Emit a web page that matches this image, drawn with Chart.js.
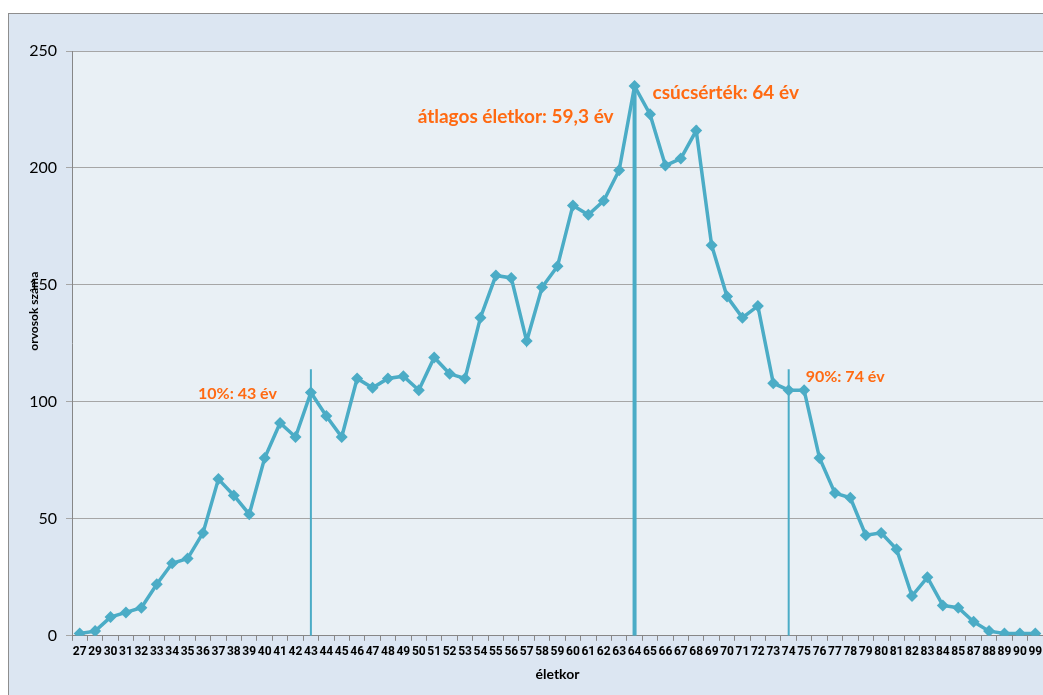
<!DOCTYPE html>
<html>
<head>
<meta charset="utf-8">
<script src="https://cdn.jsdelivr.net/npm/chart.js@4/dist/chart.umd.min.js"></script>
<style>
  html, body { margin: 0; padding: 0; overflow: hidden; background: #fff; }
  #wrap { width: 1043px; height: 695px; overflow: hidden; }
</style>
</head>
<body>
<div id="wrap"><canvas id="ageChart" width="1049" height="695"></canvas></div>
<script>
// életkor (x-axis categories)
const ages = ['27','29','30','31','32','33','34','35','36','37','38','39','40','41','42','43','44','45',
  '46','47','48','49','50','51','52','53','54','55','56','57','58','59','60','61','62','63','64','65',
  '66','67','68','69','70','71','72','73','74','75','76','77','78','79','80','81','82','83','84','85',
  '87','88','89','90','99'];

// orvosok száma
const doctors = [1, 2, 8, 10, 12, 22, 31, 33, 44, 67, 60, 52, 76, 91, 85, 104, 94, 85,
  110, 106, 110, 111, 105, 119, 112, 110, 136, 154, 153, 126, 149, 158, 184, 180, 186, 199, 235, 223,
  201, 204, 216, 167, 145, 136, 141, 108, 105, 105, 76, 61, 59, 43, 44, 37, 17, 25, 13, 12,
  6, 2, 1, 1, 1];

const yTicks = [0, 50, 100, 150, 200, 250];

// marker lines: 10%, peak, 90%
const p10Line = [{ x: '43', y: 0 }, { x: '43', y: 114 }];
const peakLine = [{ x: '64', y: 0 }, { x: '64', y: 235 }];
const p90Line = [{ x: '74', y: 0 }, { x: '74', y: 114 }];

const orange = '#FF6A12';
const blue = '#4BACC6';

const backgroundPlugin = {
    id: 'backgroundPlugin',
    beforeDraw(chart) {
        const { ctx, chartArea: a, width, height } = chart;
        ctx.save();
        ctx.fillStyle = '#ffffff';
        ctx.fillRect(0, 0, width, height);
        ctx.fillStyle = '#DCE6F2';
        ctx.fillRect(8, 13, width, height);
        ctx.strokeStyle = '#8E8E8E';
        ctx.lineWidth = 1;
        ctx.strokeRect(8.5, 13.5, width + 20, height + 20);
        ctx.fillStyle = '#E9F0F5';
        ctx.fillRect(a.left, a.top, a.right - a.left, a.bottom - a.top);
        ctx.restore();
    }
};

const labelPlugin = {
    id: 'labelPlugin',
    afterDraw(chart) {
        const { ctx, chartArea: a } = chart;
        const xs = chart.scales.x;
        const ys = chart.scales.y;
        const px = (age) => xs.getPixelForValue(ages.indexOf(age));
        ctx.save();
        ctx.fillStyle = orange;
        ctx.textBaseline = 'middle';

        ctx.font = 'bold 19px Lato';
        ctx.textAlign = 'right';
        ctx.fillText('átlagos életkor: 59,3 év', px('64') - 21, ys.getPixelForValue(222));
        ctx.textAlign = 'left';
        ctx.fillText('csúcsérték: 64 év', px('64') + 18, ys.getPixelForValue(232));

        ctx.font = 'bold 16px Lato';
        ctx.textAlign = 'right';
        ctx.fillText('10%: 43 év', px('43') - 34, ys.getPixelForValue(103.5));
        ctx.textAlign = 'left';
        ctx.fillText('90%: 74 év', px('74') + 17, ys.getPixelForValue(110.7));

        // y axis title
        ctx.fillStyle = '#000';
        ctx.font = 'bold 12px Lato';
        ctx.textAlign = 'center';
        ctx.translate(34, a.top + (a.bottom - a.top) * 0.445);
        ctx.rotate(-Math.PI / 2);
        ctx.fillText('orvosok száma', 0, 0);
        ctx.restore();
    }
};

document.addEventListener('DOMContentLoaded', function() {
    const ctx = document.getElementById('ageChart');

    new Chart(ctx, {
        type: 'line',
        data: {
            labels: ages,
            datasets: [{
                label: 'orvosok száma',
                data: doctors,
                borderColor: blue,
                backgroundColor: blue,
                borderWidth: 3.5,
                pointStyle: 'rectRot',
                pointRadius: 6,
                pointBorderWidth: 0,
                tension: 0
            }, {
                data: peakLine,
                borderColor: blue,
                borderWidth: 4,
                pointRadius: 0
            }, {
                data: p10Line,
                borderColor: blue,
                borderWidth: 2,
                pointRadius: 0
            }, {
                data: p90Line,
                borderColor: blue,
                borderWidth: 2,
                pointRadius: 0
            }]
        },
        options: {
            responsive: false,
            animation: false,
            layout: { padding: { top: 51, left: 0, right: 1, bottom: 12 } },
            scales: {
                x: {
                    type: 'category',
                    offset: true,
                    grid: {
                        offset: true,
                        drawOnChartArea: false,
                        drawTicks: true,
                        tickLength: 5,
                        color: '#878787'
                    },
                    border: { color: '#878787' },
                    ticks: {
                        autoSkip: false,
                        maxRotation: 0,
                        minRotation: 0,
                        padding: 4,
                        color: '#000',
                        font: { family: 'Roboto', weight: 'bold', size: 12 }
                    },
                    title: {
                        display: true,
                        text: 'életkor',
                        color: '#000',
                        padding: { top: 3, bottom: 0 },
                        font: { family: 'Lato', weight: 'bold', size: 14 }
                    }
                },
                y: {
                    min: 0,
                    max: 250,
                    afterFit(scale) { scale.width = 72; },
                    afterBuildTicks(scale) { scale.ticks = yTicks.map(v => ({ value: v })); },
                    grid: { color: '#A6A6A6', tickLength: 6 },
                    border: { color: '#878787' },
                    ticks: {
                        padding: 9,
                        color: '#000',
                        font: { family: 'Lato', size: 16 }
                    }
                }
            },
            plugins: {
                legend: { display: false },
                tooltip: { enabled: false }
            }
        },
        plugins: [backgroundPlugin, labelPlugin]
    });
});
</script>
</body>
</html>
